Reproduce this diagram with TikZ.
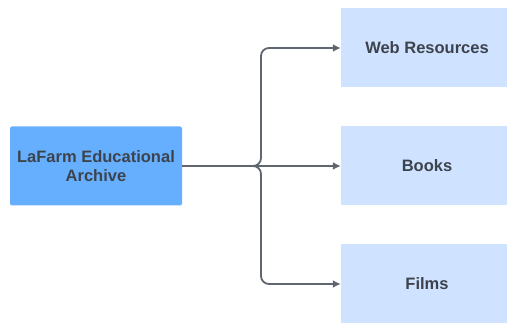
\documentclass[tikz,border=0pt]{standalone}
\usepackage{fontspec}
\setmainfont{Liberation Sans}
\usetikzlibrary{arrows.meta}
\definecolor{mainblue}{HTML}{66AFFF}
\definecolor{paleblue}{HTML}{CFE2FF}
\definecolor{txtgray}{HTML}{3D434C}
\definecolor{linegray}{HTML}{5F6670}
\tikzset{
  box/.style={minimum width=172pt, minimum height=79pt, inner sep=0pt,
    align=center, text=txtgray, font=\fontsize{16.5}{19}\selectfont\bfseries},
  root/.style={box, fill=mainblue, rounded corners=2pt},
  leaf/.style={box, fill=paleblue},
  link/.style={draw=linegray, line width=1.8pt, rounded corners=8pt,
    -{Latex[length=8pt,width=8pt]}}
}
\begin{document}
\begin{tikzpicture}[x=1pt,y=-1pt]
      \clip (0,0) rectangle (507,323);
      \draw
        (96,166) node[root] (archive){LaFarm Educational\\Archive}
        (427,48) node[leaf] (web){Web Resources}
        (427,166) node[leaf] (books){Books}
        (427,284) node[leaf] (films){Films};
      \begin{scope}[link]
        \draw (archive.east) -- (261,166) |- (web.west);
        \draw (archive.east) -- (books.west);
        \draw (archive.east) -- (261,166) |- (films.west);
      \end{scope}
    \end{tikzpicture}
\end{document}
